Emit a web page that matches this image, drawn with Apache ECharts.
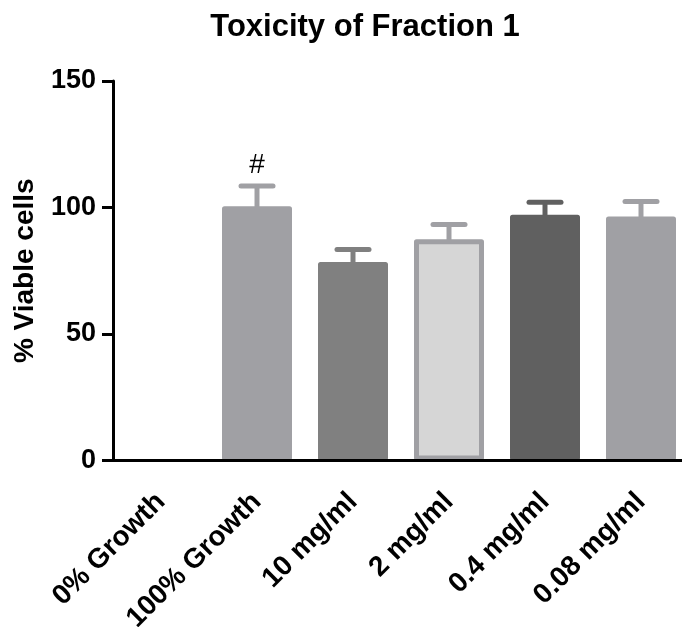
<!DOCTYPE html>
<html>
<head>
<meta charset="utf-8">
<title>Toxicity of Fraction 1</title>
<script src="https://cdn.jsdelivr.net/npm/echarts@6/dist/echarts.min.js"></script>
<style>
  html, body { margin: 0; padding: 0; background: #ffffff; }
  #chart { width: 682px; height: 627px; }
</style>
</head>
<body>
<div id="chart"></div>
<script>
// Groups on the x axis
const categories = ['0% Growth', '100% Growth', '10 mg/ml', '2 mg/ml', '0.4 mg/ml', '0.08 mg/ml'];
// Mean % viable cells per group
const means = [0, 100.5, 78.5, 87.5, 97.1, 96.4];
// Error (upper whisker) per group
const errors = [0, 8.0, 4.9, 5.8, 5.0, 6.0];
// Significance marks above the whiskers
const marks = ['', '#', '', '', '', ''];
// Y axis ticks
const yTicks = [0, 50, 100, 150];

// Bar styling per group
const fills = ['#a0a0a4', '#a0a0a4', '#808080', '#d6d6d6', '#606060', '#a0a0a4'];
const strokes = ['#a0a0a4', '#a0a0a4', '#808080', '#a0a0a4', '#606060', '#a0a0a4'];

const FONT = '"Liberation Sans", Arial, Helvetica, sans-serif';

const chart = echarts.init(document.getElementById('chart'), null, { renderer: 'canvas' });

chart.setOption({
  animation: false,
  backgroundColor: '#ffffff',
  title: {
    text: 'Toxicity of Fraction 1',
    left: 360,
    textAlign: 'center',
    top: 7,
    textStyle: { fontFamily: FONT, fontWeight: 'bold', fontSize: 31, color: '#000' }
  },
  grid: {
    left: 113, right: -7, top: 81, bottom: 166.5,
    containLabel: false,
    outerBoundsMode: 'none'
  },
  xAxis: {
    type: 'category',
    data: categories,
    z: 5,
    axisLine: { lineStyle: { color: '#000', width: 3 } },
    axisTick: { alignWithLabel: true, length: 10, lineStyle: { color: '#000', width: 3 } },
    axisLabel: {
      rotate: 45,
      margin: 37,
      interval: 0,
      fontFamily: FONT,
      fontWeight: 'bold',
      fontSize: 28,
      color: '#000'
    }
  },
  yAxis: {
    type: 'value',
    min: yTicks[0],
    max: yTicks[yTicks.length - 1],
    interval: yTicks[1] - yTicks[0],
    z: 5,
    name: '% Viable cells',
    nameLocation: 'middle',
    nameGap: 74,
    nameTextStyle: { fontFamily: FONT, fontWeight: 'bold', fontSize: 28, color: '#000' },
    axisLine: { show: true, lineStyle: { color: '#000', width: 3 } },
    axisTick: { show: true, length: 11, lineStyle: { color: '#000', width: 3 } },
    splitLine: { show: false },
    axisLabel: {
      margin: 17,
      fontFamily: FONT,
      fontWeight: 'bold',
      fontSize: 27,
      color: '#000'
    }
  },
  series: [
    {
      type: 'bar',
      barWidth: 70,
      z: 2,
      data: means.map((v, i) => ({
        value: v,
        itemStyle: {
          color: fills[i],
          borderColor: strokes[i],
          borderWidth: v > 0 ? 5 : 0,
          borderJoin: 'round'
        }
      }))
    },
    {
      type: 'custom',
      z: 3,
      data: means.map((v, i) => [i, v, errors[i]]),
      renderItem: function (params, api) {
        const i = api.value(0);
        const v = api.value(1);
        const e = api.value(2);
        const children = [];
        if (e > 0) {
          const base = api.coord([i, v]);
          const top = api.coord([i, v + e]);
          const color = strokes[i];
          children.push({
            type: 'line',
            shape: { x1: base[0], y1: base[1] + 3, x2: top[0], y2: top[1] },
            style: { stroke: color, lineWidth: 5 }
          });
          children.push({
            type: 'line',
            shape: { x1: top[0] - 16, y1: top[1], x2: top[0] + 16, y2: top[1] },
            style: { stroke: color, lineWidth: 5, lineCap: 'round' }
          });
          if (marks[i]) {
            children.push({
              type: 'text',
              style: {
                text: marks[i],
                x: top[0],
                y: top[1] - 21,
                align: 'center',
                verticalAlign: 'middle',
                fontFamily: FONT,
                fontSize: 28,
                fill: '#000'
              }
            });
          }
        }
        return { type: 'group', children: children };
      }
    }
  ]
});
</script>
</body>
</html>
